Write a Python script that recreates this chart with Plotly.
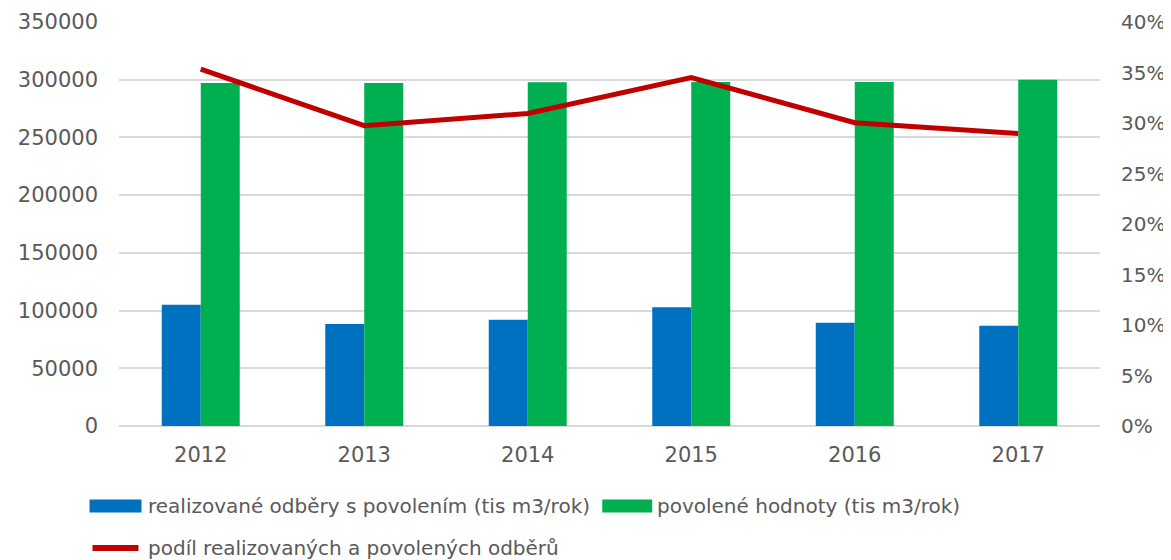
import plotly.graph_objects as go

years = ["2012", "2013", "2014", "2015", "2016", "2017"]
realizovane = [105000, 88400, 92100, 102800, 89500, 86900]
povolene = [297200, 297200, 297700, 298000, 298000, 300000]
podil = [0.3533, 0.2974, 0.3094, 0.3450, 0.3003, 0.2897]

name_real = "realizované odběry s povolením (tis m3/rok)"
name_pov = "povolené hodnoty (tis m3/rok)"
name_podil = "podíl realizovaných a povolených odběrů"

C_BLUE, C_GREEN, C_RED = "#0070C0", "#00B050", "#C00000"
FONT = "DejaVu Sans"
GREY = "#595959"

# page body has an 8px margin -> figure placed at (8, 8)
OFF = 8
W, H = 1171 - OFF, 560 - OFF
L, T = 118.5 - OFF, 22 - OFF
R = W - (1100 - OFF)
B = H - (426 - OFF)
PW, PH = W - L - R, H - T - B


def px(x):
    return (x - OFF - L) / PW


def py(y):
    return (H - B - (y - OFF)) / PH


fig = go.Figure()
fig.add_trace(go.Bar(x=years, y=realizovane, name=name_real,
                     marker=dict(color=C_BLUE, line=dict(width=0)),
                     showlegend=False))
fig.add_trace(go.Bar(x=years, y=povolene, name=name_pov,
                     marker=dict(color=C_GREEN, line=dict(width=0)),
                     showlegend=False))
fig.add_trace(go.Scatter(x=years, y=podil, name=name_podil, mode="lines",
                         line=dict(color=C_RED, width=5),
                         yaxis="y2", showlegend=False))

# manual legend (swatches + labels), positions in page pixels
legend_items = [
    (name_real, C_BLUE, "rect", 89, 141, 146, 506),
    (name_pov, C_GREEN, "rect", 602, 652, 655, 506),
    (name_podil, C_RED, "line", 89, 141, 146, 548),
]
shapes = []
annotations = []
for label, col, kind, x0, x1, tx, yc in legend_items:
    if kind == "rect":
        shapes.append(dict(type="rect", xref="paper", yref="paper",
                           x0=px(x0), x1=px(x1), y0=py(yc + 6.5), y1=py(yc - 6.5),
                           fillcolor=col, line=dict(width=0)))
    else:
        shapes.append(dict(type="line", xref="paper", yref="paper",
                           x0=px(x0 + 3), x1=px(x1 - 3), y0=py(yc), y1=py(yc),
                           line=dict(color=col, width=6)))
    annotations.append(dict(text=label, xref="paper", yref="paper",
                            x=px(tx), y=py(yc), xanchor="left", yanchor="middle",
                            showarrow=False, font=dict(size=20, color=GREY, family=FONT)))

fig.update_layout(
    width=W, height=H,
    margin=dict(l=L, r=R, t=T, b=B, pad=0),
    plot_bgcolor="white", paper_bgcolor="white",
    font=dict(family=FONT, size=20, color=GREY),
    showlegend=False,
    barmode="group", bargap=0.523, bargroupgap=0,
    xaxis=dict(type="category", showgrid=False, showline=False, ticks="",
               tickfont=dict(size=21, color=GREY), ticklabelstandoff=14,
               automargin=False),
    yaxis=dict(range=[0, 350000], dtick=50000, tickformat="d",
               showgrid=True, gridcolor="#D9D9D9", gridwidth=1.5,
               zeroline=True, zerolinecolor="#D9D9D9", zerolinewidth=1.5,
               showline=False, ticks="", tickfont=dict(size=21, color=GREY),
               ticklabelstandoff=20, automargin=False),
    yaxis2=dict(range=[0, 0.4], dtick=0.05, tickformat=".0%",
                overlaying="y", side="right", showgrid=False, zeroline=False,
                showline=False, ticks="", tickfont=dict(size=20, color=GREY),
                ticklabelstandoff=20, automargin=False),
    shapes=shapes,
    annotations=annotations,
)

fig.write_html("out.html")
